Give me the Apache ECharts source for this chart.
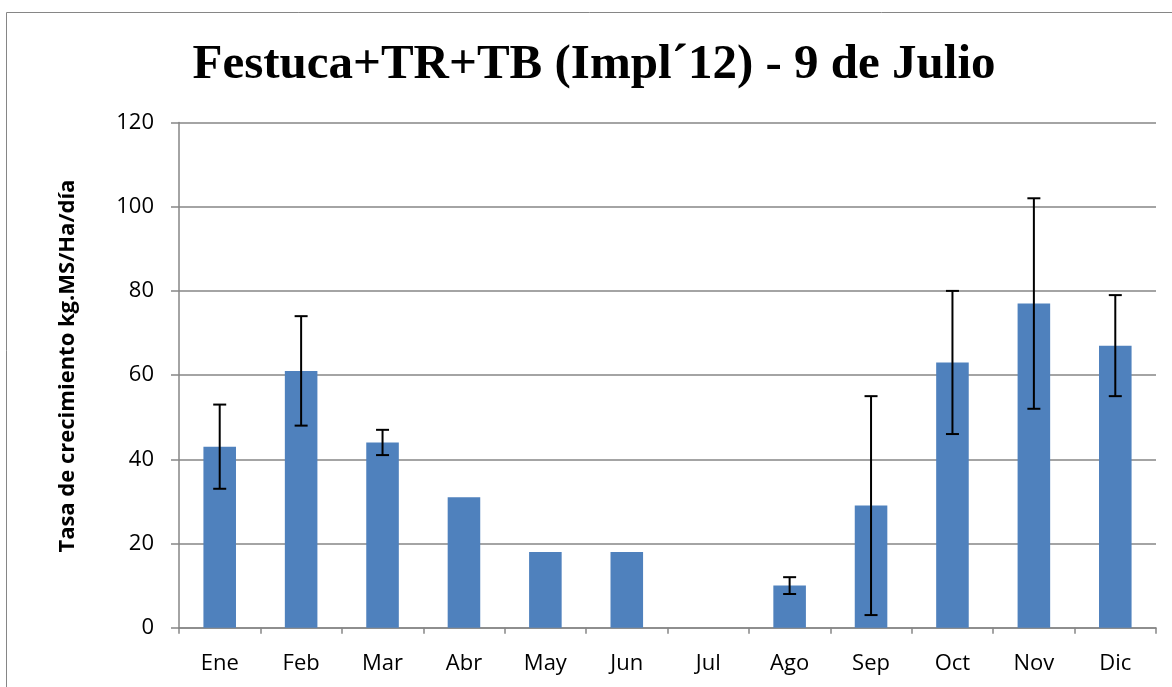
<!DOCTYPE html>
<html>
<head>
<meta charset="utf-8">
<script src="https://cdn.jsdelivr.net/npm/echarts@6/dist/echarts.min.js"></script>
<style>html,body{margin:0;padding:0;background:#fff;}#chart{width:1172px;height:687px;}</style>
</head>
<body>
<div id="chart"></div>
<script>
const titleText = 'Festuca+TR+TB (Impl\u00B412) - 9 de Julio';
const yAxisName = 'Tasa de crecimiento kg.MS/Ha/día';
const categories = ['Ene','Feb','Mar','Abr','May','Jun','Jul','Ago','Sep','Oct','Nov','Dic'];
const values = [43, 61, 44, 31, 18, 18, 0, 10, 29, 63, 77, 67];
const errLow = [33, 48, 41, null, null, null, null, 8, 3, 46, 52, 55];
const errHigh = [53, 74, 47, null, null, null, null, 12, 55, 80, 102, 79];

const chart = echarts.init(document.getElementById('chart'), null, {renderer: 'canvas'});
const errData = categories.map((c, i) => [i, errLow[i], errHigh[i]]).filter(d => d[1] != null);

chart.setOption({
  animation: false,
  backgroundColor: '#fff',
  graphic: [
    {type: 'rect', shape: {x: 6.5, y: 12.5, width: 1200, height: 700}, style: {fill: null, stroke: '#868686', lineWidth: 1}, z: -1},
    {type: 'text', x: 594, y: 65, style: {text: titleText, font: 'bold 49px "Liberation Serif"', fill: '#000', textAlign: 'center', textVerticalAlign: 'middle'}}
  ],
  grid: {left: 179, right: 16, top: 122.5, bottom: 59.3, containLabel: false},
  xAxis: {
    type: 'category', data: categories,
    axisLine: {lineStyle: {color: '#868686', width: 1.5}},
    axisTick: {show: true, alignWithLabel: false, length: 6, lineStyle: {color: '#868686', width: 1.5}},
    axisLabel: {color: '#000', fontFamily: 'Open Sans', fontSize: 22, margin: 25}
  },
  yAxis: {
    type: 'value', min: 0, max: 120, interval: 20,
    name: yAxisName, nameLocation: 'middle', nameGap: 100,
    nameTextStyle: {color: '#000', fontFamily: 'Open Sans', fontWeight: 'bold', fontSize: 22, padding: [0, 0, 0, 18]},
    axisLine: {show: true, lineStyle: {color: '#868686', width: 1.5}},
    axisTick: {show: true, length: 8, lineStyle: {color: '#868686', width: 1.5}},
    axisLabel: {color: '#000', fontFamily: 'Open Sans', fontSize: 22, margin: 25},
    splitLine: {lineStyle: {color: '#868686', width: 1.5}}
  },
  series: [
    {
      type: 'bar', data: values, barWidth: '40%',
      itemStyle: {color: '#4F81BD', borderWidth: 0}
    },
    {
      type: 'custom', data: errData, z: 10,
      renderItem: function (params, api) {
        const x = api.value(0);
        const lo = api.coord([x, api.value(1)]);
        const hi = api.coord([x, api.value(2)]);
        const cap = 6.5;
        const style = {stroke: '#000', lineWidth: 2};
        return {type: 'group', children: [
          {type: 'line', shape: {x1: lo[0], y1: lo[1], x2: hi[0], y2: hi[1]}, style: style},
          {type: 'line', shape: {x1: lo[0]-cap, y1: lo[1], x2: lo[0]+cap, y2: lo[1]}, style: style},
          {type: 'line', shape: {x1: hi[0]-cap, y1: hi[1], x2: hi[0]+cap, y2: hi[1]}, style: style}
        ]};
      }
    }
  ]
});
</script>
</body>
</html>
